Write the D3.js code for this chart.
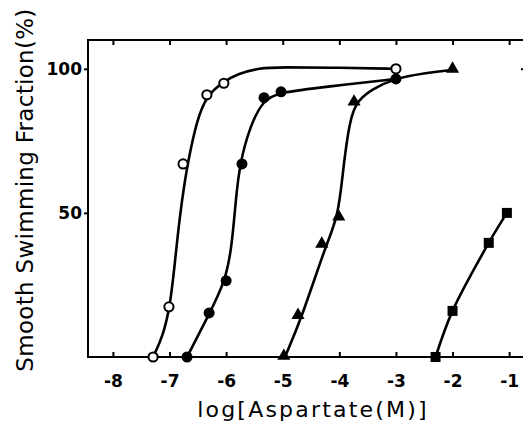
<!DOCTYPE html>
<html>
<head>
<meta charset="utf-8">
<script src="https://cdn.jsdelivr.net/npm/d3@7"></script>
<style>
  body { margin: 0; background: #fff; }
  svg { display: block; }
  text { font-family: "DejaVu Sans", "Liberation Sans", sans-serif; fill: #000; }
</style>
</head>
<body>
<svg id="chart"></svg>
<script>
// measured points, x = log10 [Aspartate (M)], y = smooth swimming fraction (%)
const openCircles = [[-7.29, 0], [-7.01, 17.4], [-6.76, 67], [-6.34, 91], [-6.04, 95], [-3.0, 100]];
const filledCircles = [[-6.69, 0], [-6.30, 15.3], [-6.0, 26.5], [-5.72, 67], [-5.33, 90], [-5.03, 92], [-3.0, 96.5]];
const triangles = [[-4.98, 0], [-4.73, 14.2], [-4.31, 38.9], [-4.01, 48.3], [-3.74, 88.2], [-2.0, 99.6]];
const squares = [[-2.3, 0], [-2.0, 16], [-1.36, 39.6], [-1.04, 50]];

// hand-drawn fitted curves
const openFit = [[-7.29, 0], [-7.12, 7], [-6.99, 17.4], [-6.90, 33.7], [-6.82, 48.6], [-6.73, 61],
  [-6.67, 68], [-6.52, 82], [-6.34, 91], [-6.04, 95.5], [-5.81, 98.2], [-5.40, 100.3], [-5.05, 100.6],
  [-4.0, 100.4], [-3.0, 100]];
const filledFit = [[-6.69, 0], [-6.29, 15.3], [-6.02, 26], [-5.90, 38], [-5.83, 54.5], [-5.76, 67],
  [-5.58, 80], [-5.35, 89], [-5.08, 91.8], [-4.22, 93.8], [-3.0, 96.5]];
const triangleFit = [[-4.96, 0], [-4.66, 13.9], [-4.25, 38.2], [-4.02, 48.6], [-3.94, 63.9], [-3.85, 77.8],
  [-3.74, 88.2], [-3.42, 93], [-3.04, 96.5], [-2.5, 98.5], [-2.0, 99.6]];
const squareFit = [[-2.3, 0], [-2.0, 16], [-1.36, 39.6], [-1.04, 50]];

const xTicks = [-8, -7, -6, -5, -4, -3, -2, -1];
const yTicks = [50, 100];

const width = 523, height = 429;
const svg = d3.select("#chart").attr("width", width).attr("height", height);

const x = d3.scaleLinear().domain([-8.44, -0.72]).range([88, 525]);
const y = d3.scaleLinear().domain([0, 110]).range([357, 40]);

// frame
svg.append("rect")
  .attr("x", x.range()[0]).attr("y", y.range()[1])
  .attr("width", x.range()[1] - x.range()[0]).attr("height", y.range()[0] - y.range()[1])
  .attr("fill", "none").attr("stroke", "#000").attr("stroke-width", 2);

// bottom axis: ticks inside
const xAxis = svg.append("g").attr("transform", `translate(0,${y(0)})`)
  .call(d3.axisBottom(x).tickValues(xTicks).tickSizeInner(-5).tickSizeOuter(0).tickPadding(18)
    .tickFormat(d => "-" + Math.abs(d)));
xAxis.select(".domain").remove();
xAxis.selectAll("line").attr("stroke-width", 2);
xAxis.selectAll("text").attr("font-size", 17).attr("font-weight", "bold").style("font-family", "DejaVu Sans");

// top axis: ticks inside
const topAxis = svg.append("g").attr("transform", `translate(0,${y.range()[1]})`)
  .call(d3.axisTop(x).tickValues(xTicks).tickSizeInner(-5).tickSizeOuter(0).tickFormat(""));
topAxis.select(".domain").remove();
topAxis.selectAll("line").attr("stroke-width", 2);

// left axis
const yAxis = svg.append("g").attr("transform", `translate(${x.range()[0]},0)`)
  .call(d3.axisLeft(y).tickValues(yTicks).tickSize(4).tickPadding(2));
yAxis.select(".domain").remove();
yAxis.selectAll("line").attr("stroke-width", 2);
yAxis.selectAll("text").attr("font-size", 17).attr("font-weight", "bold").style("font-family", "DejaVu Sans");

// right axis tick
const rAxis = svg.append("g").attr("transform", `translate(${x.range()[1]},0)`)
  .call(d3.axisRight(y).tickValues([100]).tickSize(-4).tickFormat(""));
rAxis.select(".domain").remove();
rAxis.selectAll("line").attr("stroke-width", 2);

// fitted curves (smoothed through the read-off points)
const smooth = d3.line().x(d => x(d[0])).y(d => y(d[1])).curve(d3.curveBasis);
[openFit, filledFit, triangleFit].forEach(f => {
  svg.append("path").attr("d", smooth(f)).attr("fill", "none")
    .attr("stroke", "#000").attr("stroke-width", 2.6);
});
const through = d3.line().x(d => x(d[0])).y(d => y(d[1])).curve(d3.curveCatmullRom.alpha(0.5));
svg.append("path").attr("d", through(squareFit)).attr("fill", "none")
  .attr("stroke", "#000").attr("stroke-width", 2.6);

// markers
svg.selectAll(".open").data(openCircles).enter().append("circle")
  .attr("cx", d => x(d[0])).attr("cy", d => y(d[1])).attr("r", 4.6)
  .attr("fill", "#fff").attr("stroke", "#000").attr("stroke-width", 2);
svg.selectAll(".filled").data(filledCircles).enter().append("circle")
  .attr("cx", d => x(d[0])).attr("cy", d => y(d[1])).attr("r", 5.5)
  .attr("fill", "#000");
const tri = d3.symbol().type(d3.symbolTriangle).size(75);
svg.selectAll(".tri").data(triangles).enter().append("path")
  .attr("d", tri).attr("transform", d => `translate(${x(d[0])},${y(d[1]) - 1})`)
  .attr("fill", "#000");
svg.selectAll(".sq").data(squares).enter().append("rect")
  .attr("x", d => x(d[0]) - 5).attr("y", d => y(d[1]) - 5)
  .attr("width", 10).attr("height", 10).attr("fill", "#000");

// axis titles
svg.append("text")
  .attr("x", 313).attr("y", 417).attr("text-anchor", "middle")
  .attr("font-size", 22).attr("letter-spacing", 2.2).text("log[Aspartate(M)]");
svg.append("text")
  .attr("transform", "translate(33,190) rotate(-90)").attr("text-anchor", "middle")
  .attr("font-size", 23).attr("letter-spacing", 0.3).text("Smooth Swimming Fraction(%)");
</script>
</body>
</html>
